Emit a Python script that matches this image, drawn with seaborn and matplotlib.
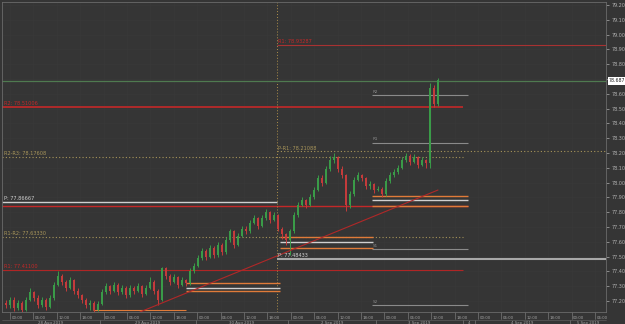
import numpy as np
import pandas as pd
import matplotlib
matplotlib.use("Agg")
import matplotlib.pyplot as plt
import matplotlib.transforms as mtransforms
import seaborn as sns

# candle data
first_open = 77.19
closes = [77.17, 77.21, 77.15, 77.19, 77.14, 77.21, 77.26, 77.22, 77.17, 77.21,
          77.16, 77.22, 77.31, 77.37, 77.33, 77.29, 77.34, 77.27, 77.24, 77.21,
          77.17, 77.19, 77.14, 77.18, 77.26, 77.30, 77.27, 77.31, 77.26, 77.29,
          77.24, 77.29, 77.27, 77.30, 77.25, 77.29, 77.33, 77.27, 77.21, 77.42,
          77.37, 77.33, 77.36, 77.31, 77.34, 77.32, 77.40, 77.44, 77.49, 77.54,
          77.50, 77.56, 77.51, 77.58, 77.53, 77.61, 77.67, 77.58, 77.64, 77.69,
          77.67, 77.73, 77.76, 77.71, 77.76, 77.80, 77.75, 77.78, 77.69, 77.65,
          77.61, 77.67, 77.78, 77.85, 77.88, 77.85, 77.90, 77.95, 78.03, 78.00,
          78.09, 78.15, 78.17, 78.09, 78.05, 77.85, 77.92, 78.02, 78.05, 78.03,
          77.98, 77.99, 77.95, 77.96, 77.92, 78.01, 78.05, 78.07, 78.10, 78.15,
          78.18, 78.14, 78.17, 78.12, 78.15, 78.13, 78.64, 78.53, 78.69]
highs = [77.21, 77.23, 77.23, 77.21, 77.20, 77.23, 77.29, 77.27, 77.24, 77.23,
         77.22, 77.24, 77.33, 77.40, 77.38, 77.34, 77.36, 77.35, 77.29, 77.25,
         77.22, 77.21, 77.20, 77.20, 77.28, 77.32, 77.31, 77.33, 77.32, 77.31,
         77.30, 77.31, 77.30, 77.32, 77.31, 77.31, 77.36, 77.34, 77.28, 77.43,
         77.43, 77.38, 77.38, 77.37, 77.36, 77.35, 77.42, 77.46, 77.51, 77.56,
         77.55, 77.58, 77.57, 77.60, 77.59, 77.63, 77.69, 77.68, 77.66, 77.71,
         77.71, 77.75, 77.78, 77.77, 77.78, 77.82, 77.81, 77.80, 77.79, 77.70,
         77.66, 77.69, 77.80, 77.87, 77.90, 77.89, 77.92, 77.97, 78.05, 78.05,
         78.11, 78.18, 78.20, 78.18, 78.11, 78.06, 77.94, 78.04, 78.07, 78.06,
         78.04, 78.01, 78.00, 77.98, 77.97, 78.03, 78.07, 78.09, 78.12, 78.17,
         78.20, 78.19, 78.19, 78.18, 78.17, 78.16, 78.67, 78.66, 78.71]
lows = [77.15, 77.15, 77.13, 77.14, 77.12, 77.13, 77.20, 77.20, 77.15, 77.16,
        77.14, 77.15, 77.21, 77.30, 77.31, 77.27, 77.28, 77.25, 77.22, 77.19,
        77.15, 77.14, 77.12, 77.13, 77.17, 77.25, 77.25, 77.26, 77.24, 77.25,
        77.22, 77.23, 77.25, 77.26, 77.23, 77.24, 77.28, 77.25, 77.17, 77.20,
        77.35, 77.31, 77.32, 77.29, 77.30, 77.30, 77.31, 77.39, 77.43, 77.48,
        77.48, 77.49, 77.49, 77.50, 77.51, 77.52, 77.60, 77.56, 77.57, 77.63,
        77.65, 77.66, 77.72, 77.69, 77.70, 77.75, 77.73, 77.74, 77.67, 77.62,
        77.58, 77.51, 77.66, 77.77, 77.84, 77.83, 77.84, 77.89, 77.94, 77.98,
        77.99, 78.08, 78.13, 78.07, 78.03, 77.81, 77.83, 77.91, 78.01, 78.01,
        77.96, 77.96, 77.93, 77.94, 77.90, 77.91, 78.00, 78.04, 78.06, 78.09,
        78.14, 78.12, 78.13, 78.10, 78.11, 78.10, 78.10, 78.51, 78.52]
last_price = 78.687

# pivot levels
prev_pivot = 77.86667
prev_r1r2 = 77.63330
prev_r1 = 77.41100
prev_r2 = 78.51006
prev_r2r3 = 78.17608
cur_pivot = 77.48433
cur_r1 = 78.93287
cur_pr1 = 78.21088
day_levels = [78.59, 78.27, 77.55, 77.17]
day_names = ["R2", "R1", "S1", "S2"]
zone_a = [77.32, 77.29, 77.27]
zone_b = [77.63, 77.60, 77.56]
zone_c = [77.91, 77.88, 77.84]
trend_x = [33.5, 108.0]
trend_y = [77.126, 77.95]

price_ticks = np.round(np.arange(77.2, 79.25, 0.1), 2)
time_labels = ["00:00", "06:00", "12:00", "18:00"]
date_labels = ["28 Aug 2019", "29 Aug 2019", "30 Aug 2019", "2 Sep 2019",
               "3 Sep 2019", "4", "4 Sep 2019", "5 Sep 2019"]
day_edges = [-1, 23.5, 47.5, 70.5, 92.5, 114.25, 117.25, 141, 150]

bg = "#353535"
sns.set_theme(style="dark", rc={"axes.facecolor": bg, "figure.facecolor": bg,
                                "axes.edgecolor": "#6a6a6a"})

fig = plt.figure(figsize=(6.25, 3.24), dpi=100)
ax = fig.add_axes([2 / 625, 12 / 324, 604 / 625, 310 / 324])
ax.set_xlim(-1, 150)
ax.set_ylim(77.126, 79.22)

# faint grid
for t in price_ticks:
    ax.axhline(t, color="#393939", lw=0.5, zorder=0)
for t in np.arange(1, 150, 5.85):
    ax.axvline(t, color="#393939", lw=0.5, zorder=0)

# candles
df = pd.DataFrame({"close": closes, "high": highs, "low": lows})
df["open"] = [first_open] + closes[:-1]
df["i"] = np.arange(len(df))
df["up"] = df["close"] >= df["open"]
cols = np.where(df["up"], "#3a9b48", "#c43b3b")
ax.vlines(df["i"], df["low"], df["high"], colors=cols, lw=0.7, zorder=3)
body = (df["close"] - df["open"]).abs().clip(lower=0.004)
ax.bar(df["i"], body, bottom=df[["open", "close"]].min(axis=1), width=0.6,
       color=cols, lw=0, zorder=4)

# trend line
sns.lineplot(x=trend_x, y=trend_y, color="#b02828", lw=0.8, ax=ax, zorder=5)

red = "#c42828"
yel = "#a8955a"
wht = "#d0d0d0"
org = "#e07b39"
gry = "#8a8a8a"

# previous week levels
ax.hlines(prev_r2, -1, 114.25, color=red, lw=1.2, zorder=2)
ax.hlines(prev_r2r3, -1, 114.25, color=yel, lw=0.8, ls=(0, (1, 2)), zorder=2)
ax.hlines(prev_pivot, -1, 67.75, color=wht, lw=1.0, zorder=2)
ax.hlines(zone_c[2], -1, 115.5, color=red, lw=1.0, zorder=2)
ax.hlines(prev_r1r2, -1, 114.25, color=yel, lw=0.8, ls=(0, (1, 2)), zorder=2)
ax.hlines(prev_r1, -1, 114.25, color="#b02525", lw=0.8, zorder=2)
# current week levels
ax.axvline(67.75, color="#b0904a", lw=0.7, ls=(0, (1, 2)), zorder=2)
ax.hlines(cur_r1, 67.75, 150, color="#a83232", lw=0.8, zorder=2)
ax.hlines(cur_pr1, 67.75, 150, color=yel, lw=0.8, ls=(0, (1, 2)), zorder=2)
ax.hlines(cur_pivot, 67.75, 150, color="#a8a8a8", lw=1.5, zorder=2)
ax.axhline(last_price, color="#4f7a50", lw=0.9, zorder=2)
# daily levels
for lv, nm in zip(day_levels, day_names):
    ax.hlines(lv, 91.5, 115.5, color=gry, lw=0.8, zorder=2)
    ax.text(91.7, lv + 0.008, nm, color=gry, fontsize=3, va="bottom")
for zone, x0, x1 in [(zone_a, 45, 68.5), (zone_b, 68.5, 91.75), (zone_c, 91.5, 115.5)]:
    ax.hlines(zone, x0, x1, colors=[org, wht, org], lw=1.0, zorder=2)
ax.hlines(77.14, 21.75, 45, color=org, lw=0.8, zorder=2)

# level captions
lab = dict(fontsize=3.6, va="bottom", zorder=6)
ax.text(-0.6, prev_r2 + 0.006, "R2: 78.51006", color=red, **lab)
ax.text(-0.6, prev_r2r3 + 0.006, "R2-R3: 78.17608", color=yel, **lab)
ax.text(-0.6, prev_pivot + 0.006, "P: 77.86667", color=wht, **lab)
ax.text(-0.6, prev_r1r2 + 0.006, "R1-R2: 77.63330", color=yel, **lab)
ax.text(-0.6, prev_r1 + 0.006, "R1: 77.41100", color=red, **lab)
ax.text(68.0, cur_r1 + 0.006, "R1: 78.93287", color=red, **lab)
ax.text(68.0, cur_pr1 + 0.006, "P-R1: 78.21088", color=yel, **lab)
ax.text(68.0, cur_pivot + 0.006, "P: 77.48433", color=wht, **lab)

# price axis on the right (the tick under the price box stays unlabelled)
ax.yaxis.tick_right()
ax.set_yticks(price_ticks)
ax.set_yticklabels(["" if abs(t - last_price) < 0.05 else f"{t:.2f}"
                    for t in price_ticks])
ax.tick_params(axis="y", labelsize=3.5, colors="#b0b0b0", length=2, width=0.5,
               pad=2, right=True)
ax.annotate(f"{last_price:.3f}", xy=(1.0, last_price),
            xycoords=("axes fraction", "data"), xytext=(2, 0),
            textcoords="offset points", fontsize=3.3, color="#202020",
            va="center", ha="left",
            bbox=dict(boxstyle="square,pad=0.25", fc="white", ec="none"))

# time axis at the bottom
ax.set_xticks([])
trans = mtransforms.blended_transform_factory(ax.transData, ax.transAxes)
for k, t in enumerate(np.arange(1, 150, 5.85)):
    ax.text(t + 0.4, -0.012, time_labels[k % 4], transform=trans, fontsize=2.8,
            color="#a0a0a0", va="top", ha="left", clip_on=False)
    ax.plot([t, t], [0, -0.022], transform=trans, color="#888", lw=0.4,
            clip_on=False)
for k, lbl in enumerate(date_labels):
    mid = (day_edges[k] + day_edges[k + 1]) / 2
    ax.text(mid, -0.03, lbl, transform=trans, fontsize=2.8, color="#a0a0a0",
            va="top", ha="center", clip_on=False)
for e in day_edges[1:-1]:
    ax.plot([e, e], [-0.025, -0.04], transform=trans, color="#888", lw=0.4,
            clip_on=False)
ax.plot([-1, 150], [-0.025, -0.025], transform=trans, color="#666", lw=0.4,
        clip_on=False)

for s in ax.spines.values():
    s.set_color("#6a6a6a")
    s.set_linewidth(0.6)

fig.savefig("out.png", dpi=100, facecolor=bg)
